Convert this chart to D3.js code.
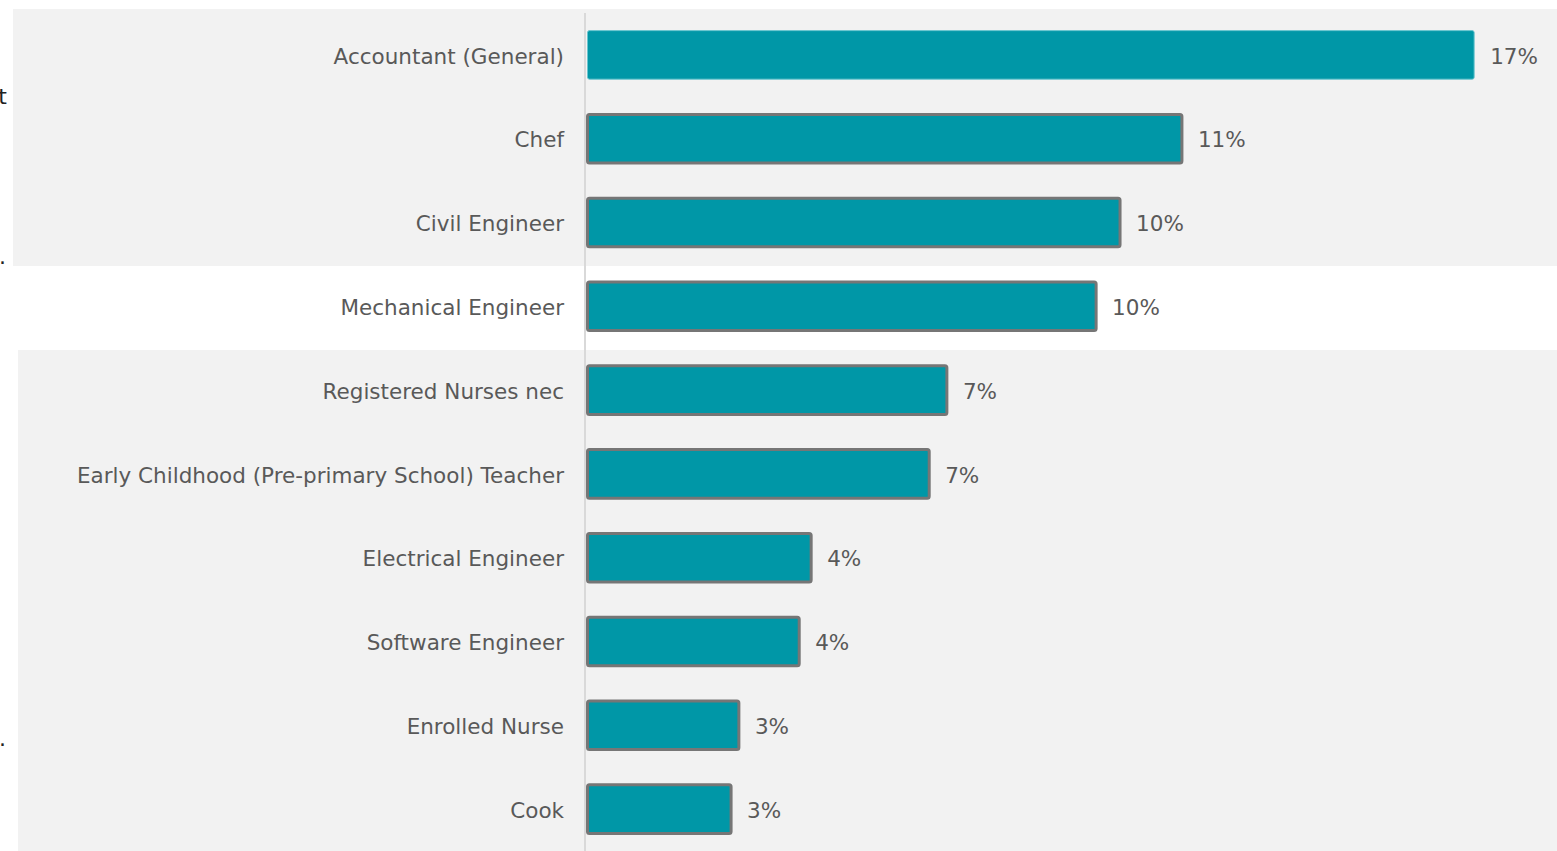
<!DOCTYPE html>
<html><head><meta charset="utf-8">
<script src="https://cdn.jsdelivr.net/npm/d3@7"></script>
<style>html,body{margin:0;padding:0;background:#fff;overflow:hidden}</style>
</head><body>
<svg id="c" width="1557" height="851"></svg>
<script>
const categories = ["Accountant (General)","Chef","Civil Engineer","Mechanical Engineer","Registered Nurses nec","Early Childhood (Pre-primary School) Teacher","Electrical Engineer","Software Engineer","Enrolled Nurse","Cook"];
const values = [17.08, 11.46, 10.27, 9.81, 6.94, 6.6, 4.33, 4.1, 2.94, 2.79];
const valueLabels = ["17%","11%","10%","10%","7%","7%","4%","4%","3%","3%"];

const svg = d3.select("#c");
const font = "'DejaVu Sans', Verdana, sans-serif";
const y = d3.scaleBand().domain(categories).range([13, 851]).paddingInner(0.42).paddingOuter(0.21);
const x = d3.scaleLinear().domain([0, 18.5]).range([586, 1548]);

// background bands
svg.append("rect").attr("x",13).attr("y",9).attr("width",1544).attr("height",257).attr("fill","#f2f2f2");
svg.append("rect").attr("x",18).attr("y",350).attr("width",1539).attr("height",501).attr("fill","#f2f2f2");

// clipped stray text at left edge (part of text extending beyond the frame)
svg.append("text").attr("x",7).attr("y",104).attr("text-anchor","end").attr("font-family",font).attr("font-size",22).attr("fill","#222").text("t");
svg.append("text").attr("x",6).attr("y",264).attr("text-anchor","end").attr("font-family",font).attr("font-size",22).attr("fill","#222").text(".");
svg.append("text").attr("x",6).attr("y",746).attr("text-anchor","end").attr("font-family",font).attr("font-size",22).attr("fill","#222").text(".");

// axis line
svg.append("line").attr("x1",585).attr("x2",585).attr("y1",13).attr("y2",851).attr("stroke","#d9d9d9").attr("stroke-width",2);

const g = svg.selectAll("g.bar").data(categories).join("g").attr("class","bar");
g.append("rect")
  .attr("x", x(0)+1.5)
  .attr("y", d => y(d))
  .attr("width", (d,i) => x(values[i]) - x(0) - 1.5)
  .attr("height", y.bandwidth())
  .attr("rx", 2)
  .attr("fill", "#0097a7")
  .attr("stroke", (d,i) => i===0 ? "#6cc6cf" : "#767676")
  .attr("stroke-width", (d,i) => i===0 ? 1 : 3);

g.append("text")
  .attr("x", 564)
  .attr("y", d => y(d) + y.bandwidth()/2)
  .attr("dy","0.4em")
  .attr("text-anchor","end")
  .attr("font-family",font).attr("font-size",21.5).attr("fill","#595959")
  .text(d => d);

g.append("text")
  .attr("x", (d,i) => x(values[i]) + 16)
  .attr("y", d => y(d) + y.bandwidth()/2)
  .attr("dy","0.4em")
  .attr("font-family",font).attr("font-size",21.5).attr("fill","#595959")
  .text((d,i) => valueLabels[i]);
</script>
</body></html>
